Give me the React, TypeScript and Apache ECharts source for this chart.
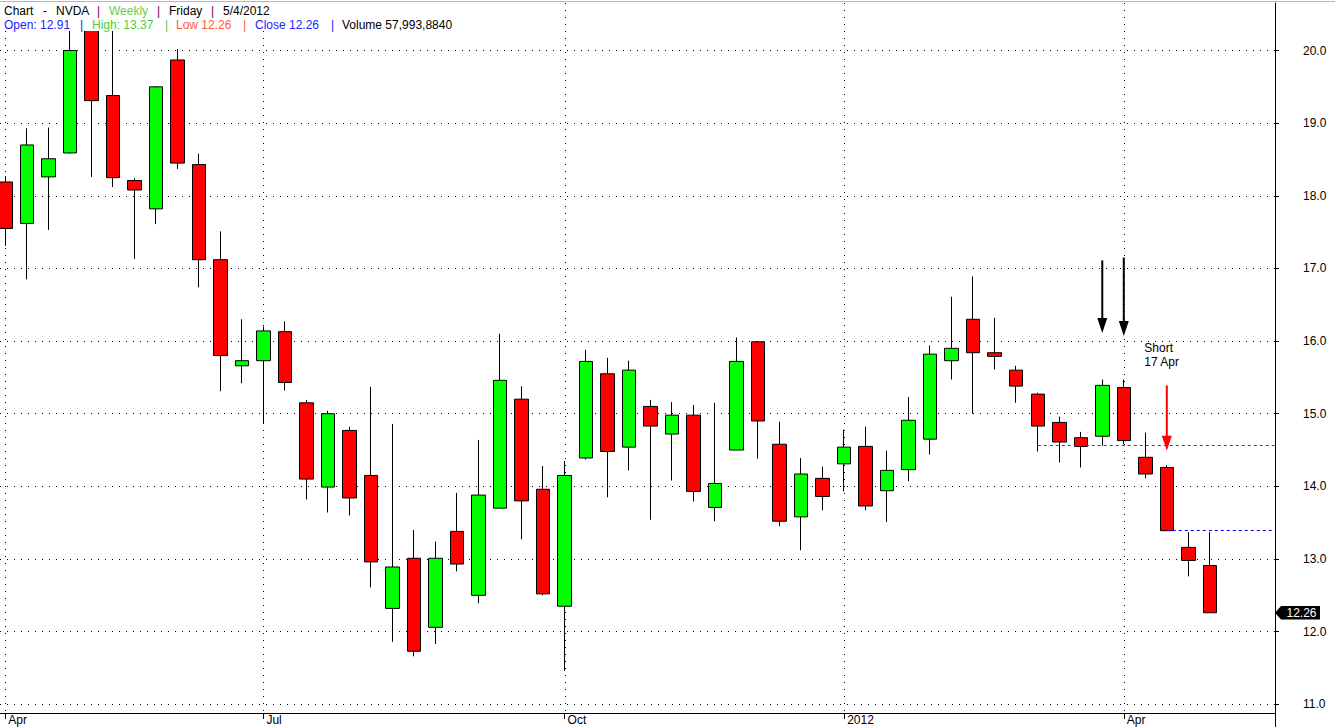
import React, { useEffect, useRef } from 'react';
import * as echarts from 'echarts';

// Weekly bars (week ending Friday)
const weeks = [
  '2011-04-08', '2011-04-15', '2011-04-22', '2011-04-29', '2011-05-06', '2011-05-13', '2011-05-20', '2011-05-27',
  '2011-06-03', '2011-06-10', '2011-06-17', '2011-06-24', '2011-07-01', '2011-07-08', '2011-07-15', '2011-07-22',
  '2011-07-29', '2011-08-05', '2011-08-12', '2011-08-19', '2011-08-26', '2011-09-02', '2011-09-09', '2011-09-16',
  '2011-09-23', '2011-09-30', '2011-10-07', '2011-10-14', '2011-10-21', '2011-10-28', '2011-11-04', '2011-11-11',
  '2011-11-18', '2011-11-25', '2011-12-02', '2011-12-09', '2011-12-16', '2011-12-23', '2011-12-30', '2012-01-06',
  '2012-01-13', '2012-01-20', '2012-01-27', '2012-02-03', '2012-02-10', '2012-02-17', '2012-02-24', '2012-03-02',
  '2012-03-09', '2012-03-16', '2012-03-23', '2012-03-30', '2012-04-06', '2012-04-13', '2012-04-20', '2012-04-27',
  '2012-05-04',
];
const opens = [
  18.19, 17.62, 18.26, 18.59, 20.40, 19.38, 18.21, 17.82, 19.87, 18.43, 17.12, 15.66, 15.73, 16.13, 15.15, 13.99,
  14.77, 14.15, 12.32, 13.01, 12.06, 13.38, 12.50, 13.70, 15.20, 13.96, 12.35, 14.39, 15.55, 14.54, 15.10, 14.72,
  14.98, 13.71, 14.50, 15.99, 14.58, 13.58, 14.11, 14.31, 14.55, 13.94, 14.23, 14.65, 15.73, 16.30, 15.84, 15.60,
  15.27, 14.88, 14.67, 14.69, 15.36, 14.40, 14.26, 13.16, 12.91,
];
const closes = [
  17.55, 18.70, 18.51, 20.00, 19.31, 18.25, 18.08, 19.50, 18.45, 17.12, 15.80, 15.73, 16.14, 15.43, 14.10, 15.00,
  13.84, 12.96, 12.89, 11.73, 13.01, 12.93, 13.88, 15.46, 13.80, 12.52, 14.15, 15.72, 14.48, 15.60, 14.83, 14.98,
  13.93, 14.04, 15.72, 14.90, 13.52, 14.17, 13.86, 14.54, 13.73, 14.22, 14.91, 15.82, 15.90, 15.84, 15.79, 15.38,
  14.83, 14.61, 14.55, 15.39, 14.63, 14.17, 13.39, 12.98, 12.26,
];
const lows = [
  17.31, 16.85, 17.53, 18.58, 18.26, 18.12, 17.13, 17.61, 18.37, 16.74, 15.31, 15.42, 14.87, 15.32, 13.82, 13.64,
  13.60, 12.61, 11.86, 11.66, 11.83, 12.83, 12.39, 13.70, 13.27, 12.50, 11.46, 14.37, 13.85, 14.22, 13.54, 14.08,
  13.79, 13.52, 14.50, 14.38, 13.45, 13.12, 13.67, 13.93, 13.67, 13.51, 14.07, 14.44, 15.47, 15.00, 15.61, 15.15,
  14.48, 14.33, 14.26, 14.56, 14.58, 14.11, 13.39, 12.76, 12.26,
];
const highs = [
  18.27, 18.93, 18.94, 20.45, 20.58, 20.45, 18.24, 19.51, 20.02, 18.58, 17.51, 16.30, 16.20, 16.27, 15.19, 15.04,
  14.82, 15.37, 14.86, 13.40, 13.24, 13.91, 14.64, 16.10, 15.38, 14.28, 14.35, 15.88, 15.77, 15.73, 15.19, 15.16,
  15.12, 15.15, 16.05, 16.00, 14.89, 14.39, 14.27, 14.78, 14.82, 14.49, 15.23, 15.94, 16.61, 16.89, 16.32, 15.66,
  15.29, 14.96, 14.75, 15.47, 15.47, 14.74, 14.29, 13.37, 13.37,
];

const xTickIndex = [0, 12, 26, 39, 52];
const xTickLabels = ['Apr', 'Jul', 'Oct', '2012', 'Apr'];
const yTicks = [11, 12, 13, 14, 15, 16, 17, 18, 19, 20];

const stopLevel = { fromIndex: 48, price: 14.56 };
const entryLevel = { fromIndex: 54, price: 13.39 };
const blackArrows = [
  { index: 51, from: 17.11, to: 16.11 },
  { index: 52, from: 17.15, to: 16.07 },
];
const redArrow = { index: 54, from: 15.39, to: 14.49 };
const note = { index: 53, price: 16.0, lines: ['Short', '17 Apr'] };
const lastClose = 12.26;

const headerLine1 = [
  { text: 'Chart', color: '#000000' },
  { text: '-', color: '#000000' },
  { text: 'NVDA', color: '#000000' },
  { text: '|', color: '#660066' },
  { text: 'Weekly', color: '#5fcf4f' },
  { text: '|', color: '#660066' },
  { text: 'Friday', color: '#000000' },
  { text: '|', color: '#660066' },
  { text: '5/4/2012', color: '#000000' },
];
const headerLine2 = [
  { text: 'Open: 12.91', color: '#2222ff' },
  { text: '|', color: '#2222ff' },
  { text: 'High: 13.37', color: '#4ccc3c' },
  { text: '|', color: '#4ccc3c' },
  { text: 'Low 12.26', color: '#ff5a3a' },
  { text: '|', color: '#ff5a3a' },
  { text: 'Close 12.26', color: '#2222ff' },
  { text: '|', color: '#2222ff' },
  { text: 'Volume 57,993,8840', color: '#000000' },
];
const header1X = [4, 43, 56, 97, 109, 157, 169, 211, 223];
const header2X = [4, 80, 92, 165, 176, 243, 255, 331, 342];

const FONT = "Arial, 'Liberation Sans', sans-serif";
const X_MIN = -0.2464;
const X_MAX = 59.03;
const Y_MIN = 10.88;
const Y_MAX = 20.654;

export default function App() {
  const ref = useRef<HTMLDivElement>(null);

  useEffect(() => {
    document.body.style.margin = '0';
    const chart = echarts.init(ref.current as HTMLDivElement, undefined, { renderer: 'svg' });
    const candles = weeks.map((_, i) => [i, opens[i], closes[i], lows[i], highs[i]]);

    chart.setOption({
      animation: false,
      backgroundColor: '#ffffff',
      grid: { left: 0, right: 60, top: 3, bottom: 14, containLabel: false },
      xAxis: {
        type: 'value',
        min: X_MIN,
        max: X_MAX,
        axisLine: { show: true, onZero: false, lineStyle: { color: '#000', width: 1 } },
        axisTick: { show: true, customValues: xTickIndex, length: 6, lineStyle: { color: '#000', width: 1 } },
        axisLabel: {
          show: true,
          customValues: xTickIndex,
          formatter: (v: number) => {
            const k = xTickIndex.indexOf(Math.round(v));
            return k >= 0 ? xTickLabels[k] : '';
          },
          align: 'left',
          padding: [0, 0, 0, 3],
          margin: 1,
          color: '#000',
          fontSize: 12,
          fontFamily: FONT,
        },
        splitLine: { show: false },
      },
      yAxis: {
        type: 'value',
        position: 'right',
        min: Y_MIN,
        max: Y_MAX,
        axisLine: { show: true, onZero: false, lineStyle: { color: '#000', width: 1 } },
        axisTick: { show: true, customValues: yTicks, length: 4, lineStyle: { color: '#000', width: 1 } },
        axisLabel: {
          show: true,
          customValues: yTicks,
          formatter: (v: number) => v.toFixed(1),
          align: 'left',
          margin: 28,
          color: '#000',
          fontSize: 12,
          fontFamily: FONT,
        },
        splitLine: { show: true, lineStyle: { color: '#000', width: 1, type: [1, 6] } },
      },
      series: [
        {
          type: 'candlestick',
          data: candles,
          encode: { x: 0, y: [1, 2, 3, 4] },
          barWidth: 14,
          clip: true,
          itemStyle: {
            color: '#00ff00',
            color0: '#ff0000',
            borderColor: '#000000',
            borderColor0: '#000000',
            borderWidth: 1,
          },
          markLine: {
            silent: true,
            symbol: ['none', 'none'],
            label: { show: false },
            data: [
              [
                { coord: [stopLevel.fromIndex, stopLevel.price], lineStyle: { color: '#ff0000', type: [3, 3], width: 1 } },
                { coord: [X_MAX, stopLevel.price] },
              ],
              [
                { coord: [entryLevel.fromIndex, entryLevel.price], lineStyle: { color: '#0000ff', type: [3, 3], width: 1 } },
                { coord: [X_MAX, entryLevel.price] },
              ],
            ],
          },
        },
      ],
    });

    const px = (i: number, p: number) => chart.convertToPixel({ gridIndex: 0 }, [i, p]) as number[];
    const g: any[] = [];

    // vertical dotted grid at the date ticks
    const [, gridTop] = px(0, Y_MAX);
    const [, gridBottom] = px(0, Y_MIN);
    xTickIndex.forEach((i) => {
      const [x] = px(i, Y_MIN);
      const xr = Math.round(x) + 0.5;
      g.push({ type: 'line', z: 1, silent: true, shape: { x1: xr, y1: gridTop, x2: xr, y2: gridBottom }, style: { stroke: '#000', lineWidth: 1, lineDash: [1, 6] } });
    });

    g.push({ type: 'rect', z: 100, shape: { x: 0, y: 0, width: 462, height: 31 }, style: { fill: '#ffffff' } });
    g.push({ type: 'line', z: 100, shape: { x1: 0, y1: 1.5, x2: 1335, y2: 1.5 }, style: { stroke: '#99bde0', lineWidth: 1 } });
    headerLine1.forEach((h, k) => {
      g.push({ type: 'text', z: 101, style: { text: h.text, x: header1X[k], y: 10.8, fill: h.color, font: `12px ${FONT}`, align: 'left', verticalAlign: 'middle' } });
    });
    headerLine2.forEach((h, k) => {
      g.push({ type: 'text', z: 101, style: { text: h.text, x: header2X[k], y: 24.8, fill: h.color, font: `12px ${FONT}`, align: 'left', verticalAlign: 'middle' } });
    });

    const arrow = (a: { index: number; from: number; to: number }, color: string) => {
      const [x, y1] = px(a.index, a.from);
      const [, y2] = px(a.index, a.to);
      g.push({ type: 'line', z: 50, shape: { x1: x, y1, x2: x, y2: y2 - 12 }, style: { stroke: color, lineWidth: 2 } });
      g.push({ type: 'polygon', z: 50, shape: { points: [[x - 5, y2 - 15], [x + 5, y2 - 15], [x, y2]] }, style: { fill: color } });
    };
    blackArrows.forEach((a) => arrow(a, '#000000'));
    arrow(redArrow, '#ff0000');

    const [nx, ny] = px(note.index, note.price);
    note.lines.forEach((t, k) => {
      g.push({ type: 'text', z: 50, style: { text: t, x: nx - 1, y: ny + 7 + k * 14, fill: '#000', font: `12px ${FONT}`, align: 'left', verticalAlign: 'middle' } });
    });

    const [ax, ly] = px(X_MAX, lastClose);
    g.push({
      type: 'polygon', z: 60,
      shape: { points: [[ax, ly], [ax + 6, ly - 6.7], [ax + 45, ly - 6.7], [ax + 45, ly + 6.7], [ax + 6, ly + 6.7]] },
      style: { fill: '#000000' },
    });
    g.push({ type: 'text', z: 61, style: { text: lastClose.toFixed(2), x: ax + 11.5, y: ly, fill: '#ffffff', font: `12px ${FONT}`, align: 'left', verticalAlign: 'middle' } });

    g.push({ type: 'line', z: 60, shape: { x1: ax + 0.5, y1: gridBottom, x2: ax + 0.5, y2: 727 }, style: { stroke: '#000', lineWidth: 1 } });

    chart.setOption({ graphic: g });

    return () => chart.dispose();
  }, []);

  return <div ref={ref} style={{ position: 'fixed', left: 0, top: 0, width: 1335, height: 727 }} />;
}
